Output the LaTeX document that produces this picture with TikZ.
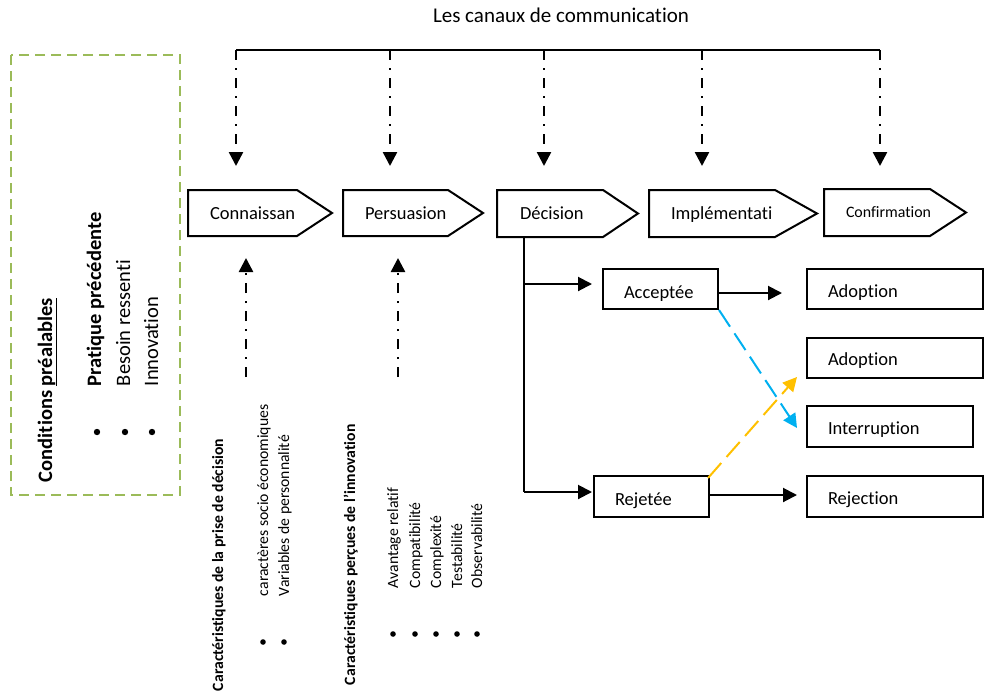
\documentclass[tikz,border=0pt]{standalone}
\usepackage{fontspec}
\setmainfont{Carlito}[Ligatures={NoCommon,NoContextual}]
\usetikzlibrary{arrows.meta}
\definecolor{grn}{RGB}{155,187,89}
\definecolor{cyanx}{RGB}{0,176,240}
\definecolor{ylw}{RGB}{255,192,0}
\newcommand\pentshape[5]{\draw (#1,#4) -- (#2,#4) -- (#3,{(#4+#5)/2}) -- (#2,#5) -- (#1,#5) -- cycle;}
\begin{document}
\begin{tikzpicture}[x=1pt,y=-1pt,line width=2pt,
  arr/.style={-{Triangle[width=14pt,length=14pt]}},
  ddot/.style={line width=2.5pt,dash pattern=on 10pt off 8pt on 2pt off 8pt},
  boxn/.style={draw,line width=2pt,inner sep=0pt,anchor=north west},
  btxt/.style={font=\fontsize{18.5}{20}\selectfont,anchor=base west,inner sep=0pt},
  vtxt/.style={rotate=90,anchor=base west,inner sep=0pt,font=\fontsize{20.5}{22}\selectfont},
  stxt/.style={rotate=90,anchor=base west,inner sep=0pt,font=\fontsize{15.7}{17}\selectfont}]
\useasboundingbox (0,0) rectangle (984,696);

% title and communication channels
\node[anchor=base west,inner sep=0pt,font=\fontsize{21}{23}\selectfont] (title) at (432,22) {Les canaux de communication};
\coordinate (c1) at (236,50);
\coordinate (c2) at (390,50);
\coordinate (c3) at (544,50);
\coordinate (c4) at (702,50);
\coordinate (c5) at (880,50);
\coordinate (e1) at (236,166);
\coordinate (e2) at (390,166);
\coordinate (e3) at (544,166);
\coordinate (e4) at (702,166);
\coordinate (e5) at (880,166);
\draw (c1) -- (c5);
\foreach \i in {1,...,5} {\draw[ddot,arr] (c\i) -- (e\i);}

% stage pentagons
\pentshape{188}{297}{332}{190}{236}
\pentshape{343}{448}{483}{190}{236}
\pentshape{497}{603}{638}{190}{237}
\pentshape{649}{775}{817}{190}{237}
\pentshape{824}{930}{966}{189}{236}
\node[btxt] (conn) at (209,219) {Connaissan};
\node[btxt] (pers) at (364,219) {Persuasion};
\node[btxt] (deci) at (519,219) {Décision};
\node[btxt] (impl) at (670,219) {Implémentati};
\node[btxt,font=\fontsize{15.9}{17}\selectfont] (conf) at (845,217) {Confirmation};

% decision boxes
\node[boxn,minimum width=115pt,minimum height=40pt] (acc) at (602,268) {};
\node[boxn,minimum width=115pt,minimum height=41pt] (rej) at (593,475) {};
\node[boxn,minimum width=176pt,minimum height=40pt] (ad1) at (806,268) {};
\node[boxn,minimum width=176pt,minimum height=40pt] (ad2) at (806,337) {};
\node[boxn,minimum width=166pt,minimum height=41pt] (intr) at (806,405) {};
\node[boxn,minimum width=176pt,minimum height=41pt] (rjn) at (806,475) {};
\node[btxt] (accT) at (623,298) {Acceptée};
\node[btxt] (rejT) at (614,505) {Rejetée};
\node[btxt] (ad1T) at (827,297) {Adoption};
\node[btxt] (ad2T) at (827,365) {Adoption};
\node[btxt] (intT) at (827,434) {Interruption};
\node[btxt] (rjnT) at (827,504) {Rejection};

% decision branches
\coordinate (dtop) at (524,237);
\coordinate (a1) at (592,284);
\coordinate (a2) at (592,492);
\draw (dtop) -- (524,492);
\draw[arr] (524,284) -- (a1);
\draw[arr] (524,492) -- (a2);
\draw[arr] (acc.east |- 0,293) -- (782,293);
\draw[arr] (rej.east |- 0,495) -- (797,495);
\draw[cyanx,dash pattern=on 20pt off 8pt,-{Triangle[width=14pt,length=14pt]}] (acc.south east) -- (797,428);
\draw[ylw,dash pattern=on 20pt off 8pt,-{Triangle[width=14pt,length=14pt]}] (708,478) -- (797,377);

% upward influence arrows
\coordinate (u1) at (246,377);
\coordinate (u2) at (398,377);
\draw[ddot,arr] (u1) -- (246,258);
\draw[ddot,arr] (u2) -- (398,258);

% prior conditions
\draw[grn,line width=2pt,dash pattern=on 10pt off 6pt] (11,55) rectangle (180,495);
\node[vtxt,font=\fontsize{20.5}{22}\selectfont\bfseries] (cond) at (52,483) {Conditions \underline{préalables}};
\node[vtxt,font=\fontsize{20.5}{22}\selectfont\bfseries] (p1) at (101,387) {Pratique précédente};
\node[vtxt] (p2) at (130,387) {Besoin ressenti};
\node[vtxt] (p3) at (158,387) {Innovation};
\foreach \x in {97,125,152} {\fill (\x,432) circle (3.2pt);}

% characteristics of decision making unit
\node[stxt,font=\fontsize{15.7}{17}\selectfont\bfseries] (cdec) at (223,692) {Caractéristiques de la prise de décision};
\node[stxt] (d1) at (268,597) {caractères socio économiques};
\node[stxt] (d2) at (289,597) {Variables de personnalité};
\foreach \x in {263,284} {\fill (\x,642) circle (2.8pt);}

% perceived characteristics of innovation
\node[stxt,font=\fontsize{15.7}{17}\selectfont\bfseries] (cinn) at (355,686) {Caractéristiques perçues de l'innovation};
\node[stxt] (i1) at (398,589) {Avantage relatif};
\node[stxt] (i2) at (420,589) {Compatibilité};
\node[stxt] (i3) at (441,589) {Complexité};
\node[stxt] (i4) at (462,589) {Testabilité};
\node[stxt] (i5) at (482,589) {Observabilité};
\foreach \x in {393,415,436,457,477} {\fill (\x,634) circle (2.8pt);}
\end{tikzpicture}
\end{document}
